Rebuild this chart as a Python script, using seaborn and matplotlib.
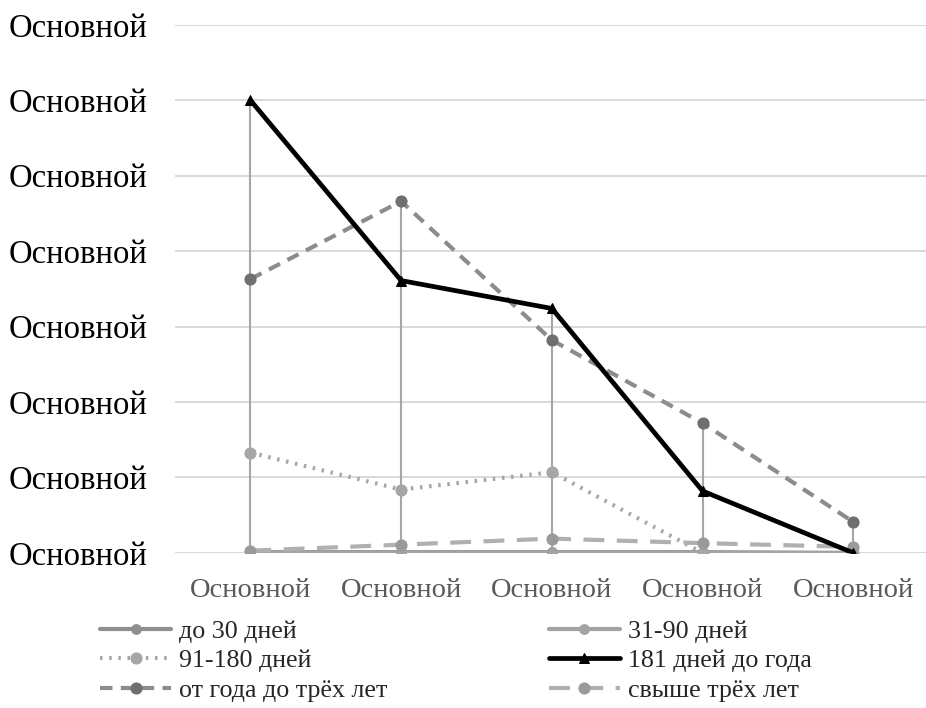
import matplotlib
matplotlib.use("Agg")
import matplotlib.pyplot as plt
import seaborn as sns
import pandas as pd
import numpy as np

categories = ["Основной", "Основной", "Основной", "Основной", "Основной"]
y_tick_labels = ["Основной"] * 8

s_30 = [0.01, 0.01, 0.01, 0.01, 0.0]
s_31_90 = [0.0, 0.0, 0.0, 0.0, 0.0]
s_91_180 = [1.33, 0.84, 1.07, 0.0, 0.0]
s_181 = [6.0, 3.61, 3.24, 0.82, 0.0]
s_1_3 = [3.63, 4.66, 2.82, 1.72, 0.41]
s_3plus = [0.03, 0.11, 0.19, 0.13, 0.08]

names = ["до 30 дней", "31-90 дней", "91-180 дней", "181 дней до года",
         "от года до трёх лет", "свыше трёх лет"]
series = [s_30, s_31_90, s_91_180, s_181, s_1_3, s_3plus]

styles = {
    "до 30 дней": dict(color="#8f8f8f", ls="-", lw=3.0, marker="o", mfc="#8f8f8f", ms=7),
    "31-90 дней": dict(color="#a3a3a3", ls="-", lw=3.0, marker="o", mfc="#a3a3a3", ms=7),
    "91-180 дней": dict(color="#a6a6a6", ls=(0, (0.6, 1.6)), lw=3.0, marker="o", mfc="#a6a6a6", ms=8),
    "181 дней до года": dict(color="#000000", ls="-", lw=3.4, marker="^", mfc="#000000", ms=7),
    "от года до трёх лет": dict(color="#8c8c8c", ls=(0, (3, 2)), lw=3.0, marker="o", mfc="#6f6f6f", ms=8),
    "свыше трёх лет": dict(color="#b0b0b0", ls=(0, (5, 3)), lw=3.0, marker="o", mfc="#9a9a9a", ms=8),
}

rows = []
for n, vals in zip(names, series):
    for i, v in enumerate(vals):
        rows.append(dict(series=n, x=i, y=v))
df = pd.DataFrame(rows)

sns.set_theme(style="white")
plt.rcParams["font.family"] = ["Liberation Serif", "DejaVu Serif"]

fig = plt.figure(figsize=(9.26, 7.08), dpi=100)
ax = fig.add_axes([0.189, 0.219, 0.814, 0.746])

# drop lines
xs = np.arange(len(categories))
tops = np.max(np.array(series), axis=0)
ax.vlines(xs, 0, tops, color="#a6a6a6", lw=1.5, zorder=1)

for n in names:
    st = styles[n]
    sub = df[df.series == n]
    sns.lineplot(data=sub, x="x", y="y", ax=ax, color=st["color"], linewidth=st["lw"],
                 linestyle=st["ls"], marker=st["marker"], markersize=st["ms"],
                 markerfacecolor=st["mfc"], markeredgecolor=st["mfc"], label=n,
                 zorder=3 if n != "181 дней до года" else 4, legend=False)

ax.set_xlim(-0.5, 4.5)
ax.set_ylim(0, 7)
ax.set_yticks(range(8))
ax.set_yticklabels(y_tick_labels, fontsize=23.5, color="#000000")
ax.set_xticks(xs)
ax.set_xticklabels(categories, fontsize=20.5, color="#595959")
ax.set_xlabel("")
ax.set_ylabel("")
ax.grid(axis="y", color="#d9d9d9", lw=1.4, zorder=0)
ax.set_axisbelow(True)
for sp in ax.spines.values():
    sp.set_visible(False)
ax.tick_params(axis="y", pad=20, length=0)
ax.tick_params(axis="x", pad=18, length=0)

handles = ax.get_lines()
hl = {h.get_label(): h for h in handles}
order = [0, 2, 4, 1, 3, 5]
ordered = [hl[names[i]] for i in order]
labels = [names[i] for i in order]
leg = fig.legend(ordered, labels, ncol=2, loc="upper left", bbox_to_anchor=(0.108, 0.125),
                 frameon=False, fontsize=18.7, handlelength=2.75, handletextpad=0.3,
                 columnspacing=6.2, labelspacing=0.25, borderaxespad=0, borderpad=0)

fig.savefig("out.png", dpi=100)
